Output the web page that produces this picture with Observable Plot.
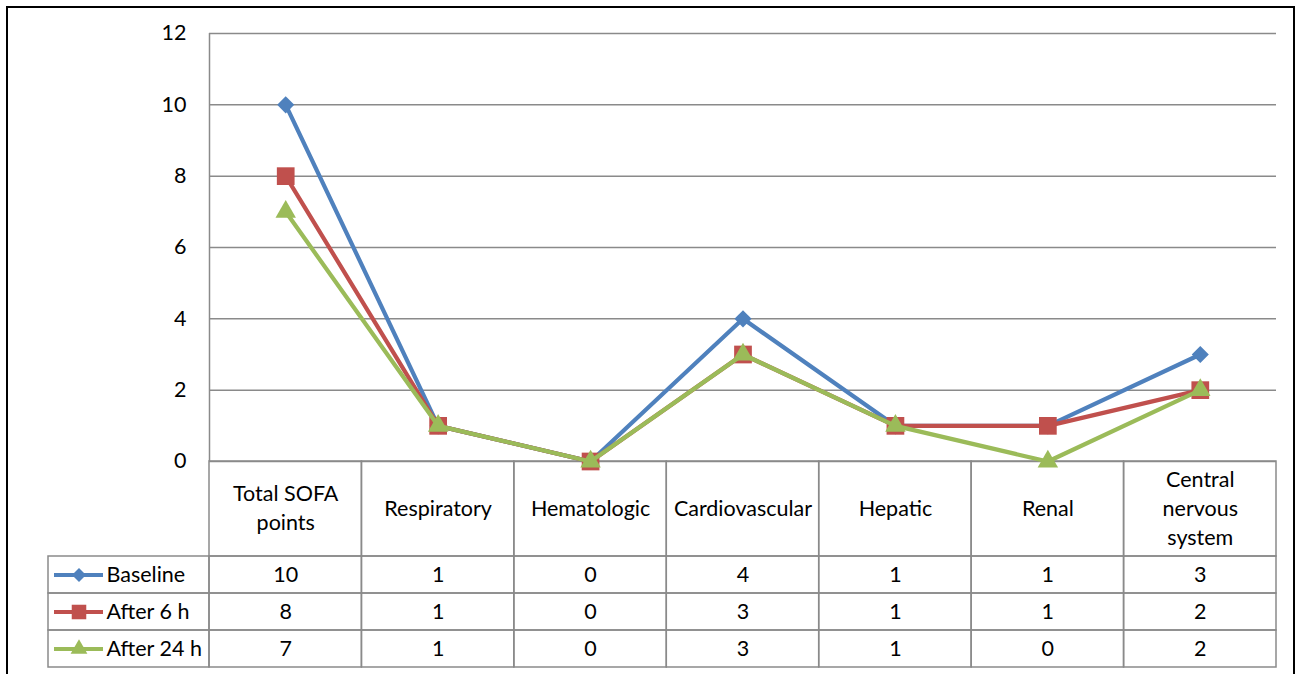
<!DOCTYPE html>
<html>
<head>
<meta charset="utf-8">
<script src="https://cdn.jsdelivr.net/npm/d3@7"></script>
<script src="https://cdn.jsdelivr.net/npm/@observablehq/plot@0.6"></script>
<style>
  html, body { margin: 0; padding: 0; background: #fff; overflow: hidden; }
  #wrap { position: relative; width: 1303px; height: 674px; }
  #border { position: absolute; left: 6px; top: 6px; width: 1289px; height: 700px; border: 2px solid #000; box-sizing: border-box; pointer-events: none; }
</style>
</head>
<body>
<div id="wrap"><div id="chart"></div><div id="border"></div></div>
<script>
// ---- data ----
const categories = ["Total SOFA\npoints", "Respiratory", "Hematologic", "Cardiovascular", "Hepatic", "Renal", "Central\nnervous\nsystem"];
const seriesNames = ["Baseline", "After 6 h", "After 24 h"];
const baseline = [10, 1, 0, 4, 1, 1, 3];
const after6h = [8, 1, 0, 3, 1, 1, 2];
const after24h = [7, 1, 0, 3, 1, 0, 2];
const yTicks = [0, 2, 4, 6, 8, 10, 12];

(function () {
// ---- styling ----
const colors = ["#4f81bd", "#c0504d", "#9bbb59"];
const symbols = ["diamond2", "square", "triangle"];
const radii = [7.7, 10.0, 7.6];
const grid = "#8a8a8a";
const font = "Lato, 'Open Sans', sans-serif";
const fs = 21.5;

// layout (pixels) -> data units helpers
const W = 1303, H = 674;
const plotLeft = 209, plotRight = 1276, plotTop = 33, zeroY = 461;
const colW = (plotRight - plotLeft) / categories.length;
const unit = (zeroY - plotTop) / 12;
const xv = p => (p - plotLeft) / colW - 0.5;
const yv = p => (zeroY - p) / unit;

const headerBottom = 556, rowH = 37, legendLeft = 48;

const valuesBySeries = [baseline, after6h, after24h];

const idx = categories.map((c, i) => i);
const headerCells = idx.map(i => ({x1: i - 0.5, x2: i + 0.5, y1: yv(zeroY), y2: yv(headerBottom)}));
const rowCells = [];
seriesNames.forEach((name, r) => {
  const y1 = yv(headerBottom + r * rowH), y2 = yv(headerBottom + (r + 1) * rowH);
  rowCells.push({x1: xv(legendLeft), x2: -0.5, y1, y2});
  idx.forEach(i => rowCells.push({x1: i - 0.5, x2: i + 0.5, y1, y2}));
});
const rowY = r => yv(headerBottom + (r + 0.5) * rowH);
const tableValues = valuesBySeries.flatMap((vals, r) => vals.map((v, i) => ({r, i, v})));
const legendRows = seriesNames.map((name, r) => ({name, r}));

const marks = [
  Plot.ruleY(yTicks, {y: d => d, x1: -0.5, x2: categories.length - 0.5, stroke: grid, strokeWidth: 1.5}),
  Plot.ruleX([-0.5], {y1: 0, y2: 12, stroke: grid, strokeWidth: 1.5}),
  Plot.axisY({ticks: yTicks, tickSize: 0, tickPadding: plotLeft - 186, fontSize: fs, fill: "#000", label: null, tickFormat: d => String(d)}),
  Plot.rect(headerCells, {x1: "x1", x2: "x2", y1: "y1", y2: "y2", fill: "none", stroke: grid, strokeWidth: 1.5}),
  Plot.rect(rowCells, {x1: "x1", x2: "x2", y1: "y1", y2: "y2", fill: "none", stroke: grid, strokeWidth: 1.5}),
  Plot.text(idx, {x: i => i, y: yv((zeroY + headerBottom) / 2), text: i => categories[i], fontSize: fs, lineHeight: 29 / fs, dy: -2.5, fill: "#000"}),
  Plot.text(tableValues, {x: "i", y: d => rowY(d.r), text: d => String(d.v), fontSize: fs, fill: "#000"}),
  Plot.text(legendRows, {x: xv(106), y: d => rowY(d.r), text: "name", textAnchor: "start", fontSize: fs, fill: "#000"}),
];

valuesBySeries.forEach((vals, s) => {
  marks.push(Plot.line(idx, {x: i => i, y: i => vals[i], stroke: colors[s], strokeWidth: 4.2, strokeLinejoin: "round"}));
  marks.push(Plot.dot(idx, {x: i => i, y: i => vals[i], symbol: symbols[s], r: radii[s], fill: colors[s], stroke: "none"}));
  // legend key in table
  marks.push(Plot.ruleY([rowY(s)], {y: d => d, x1: xv(54), x2: xv(103), stroke: colors[s], strokeWidth: 4.2}));
  marks.push(Plot.dot([s], {x: xv(78.5), y: rowY(s), symbol: symbols[s], r: radii[s] * 0.82, fill: colors[s], stroke: "none"}));
});

const chart = Plot.plot({
  width: W,
  height: H,
  marginLeft: plotLeft,
  marginRight: W - plotRight,
  marginTop: plotTop,
  marginBottom: H - zeroY,
  style: {fontFamily: font, background: "#fff", overflow: "visible"},
  x: {type: "linear", domain: [-0.5, categories.length - 0.5], axis: null},
  y: {type: "linear", domain: [0, 12], axis: null, nice: false},
  marks
});
document.getElementById("chart").appendChild(chart);
})();
</script>
</body>
</html>
